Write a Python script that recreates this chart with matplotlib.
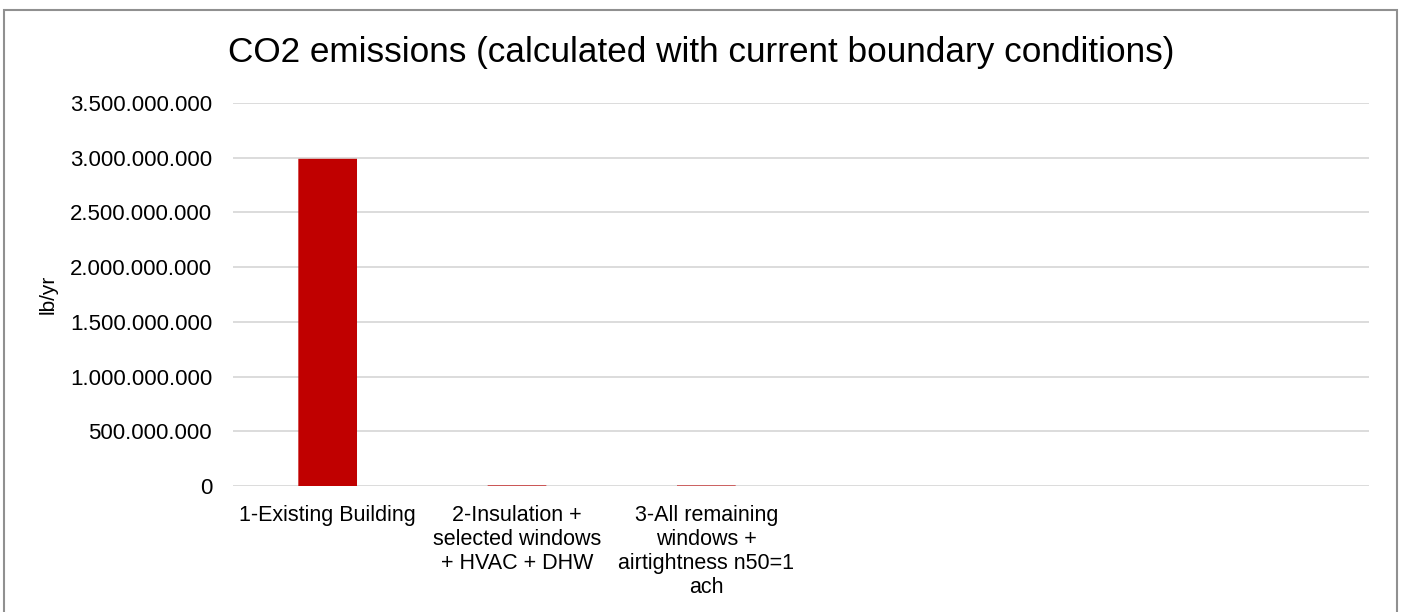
import matplotlib
matplotlib.use("Agg")
import matplotlib.pyplot as plt
from matplotlib.ticker import FuncFormatter, MultipleLocator
from matplotlib.patches import Rectangle

plt.rcParams["font.family"] = ["Liberation Sans", "DejaVu Sans"]

# scenario labels (last three slots are empty in the workbook)
scenarios = ["1-Existing Building",
             "2-Insulation +\nselected windows\n+ HVAC + DHW",
             "3-All remaining\nwindows +\nairtightness n50=1\nach",
             "", "", ""]
co2_lb_per_yr = [2.99e9, 5.5e6, 5.0e6, 0, 0, 0]

fig = plt.figure(figsize=(14.02, 6.12), dpi=100)
ax = fig.add_axes([233 / 1402, 1 - 486 / 612, 1136 / 1402, 383 / 612])

positions = list(range(len(scenarios)))
bars = ax.bar(positions, co2_lb_per_yr, width=0.31, color="#c00000", zorder=3)
for b in bars:
    b.set_snap(False)

ax.set_xlim(-0.5, len(scenarios) - 0.5)
ax.set_ylim(0, 3.5e9)
ax.yaxis.set_major_locator(MultipleLocator(5e8))
ax.yaxis.set_major_formatter(
    FuncFormatter(lambda v, pos: f"{v:,.0f}".replace(",", ".")))
ax.set_xticks(positions)
ax.set_xticklabels(scenarios, fontsize=15.5, linespacing=1.17, va="top")

ax.tick_params(axis="y", length=0, pad=15, labelsize=16)
ax.tick_params(axis="x", length=0, pad=14)
ax.grid(axis="y", color="#d9d9d9", lw=1.3, zorder=0)
for side in ax.spines.values():
    side.set_visible(False)

ax.set_ylabel("lb/yr", fontsize=15)
ax.yaxis.set_label_coords(-0.154, 0.5)

fig.text(0.5, 1 - 62 / 612,
         "CO2 emissions (calculated with current boundary conditions)",
         ha="center", va="baseline", fontsize=25.3)

# chart frame
fig.patches.append(Rectangle((4 / 1402, -0.1), 1393 / 1402, 1.1 - 10 / 612,
                             transform=fig.transFigure, fill=False,
                             edgecolor="#909090", lw=1.5))

fig.savefig("out.png", dpi=100, facecolor="white")
